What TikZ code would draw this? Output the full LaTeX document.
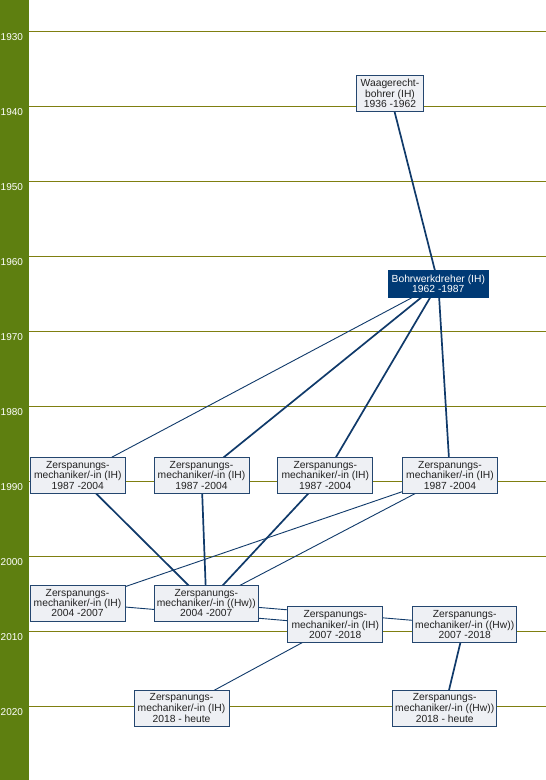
\documentclass[tikz,border=0pt]{standalone}
\usepackage{fontspec}
\setmainfont{Liberation Sans}
\usetikzlibrary{backgrounds}
\definecolor{bargreen}{HTML}{5E7F10}
\definecolor{gridolive}{HTML}{7F7F10}
\definecolor{linkblue}{HTML}{103A6A}
\definecolor{boxborder}{HTML}{24466F}
\definecolor{boxfill}{HTML}{EEF0F4}
\definecolor{hilite}{HTML}{003A75}
\definecolor{boxtext}{HTML}{222222}
\tikzset{
  job/.style={draw=boxborder, fill=boxfill, line width=0.8pt, inner sep=0pt,
    minimum height=36pt, text=boxtext, align=center,
    font=\fontsize{10.3}{9}\selectfont},
  ih/.style={job, minimum width=95pt},
  hw/.style={job, minimum width=104pt},
  cur/.style={job, fill=hilite, draw=hilite, text=white, minimum width=100pt, minimum height=27pt},
  yearlbl/.style={text=white, anchor=west, inner sep=0pt, font=\fontsize{10}{12}\selectfont},
  grid/.style={draw=gridolive, line width=0.8pt},
  thick link/.style={draw=linkblue, line width=1.7pt},
  thin link/.style={draw=linkblue, line width=0.9pt},
}
\begin{document}
\begin{tikzpicture}[x=1pt, y=-1pt]
\useasboundingbox (0,0) rectangle (546,780);
\node[job, minimum width=67pt] (waag) at (390,93.7) {Waagerecht-\\bohrer (IH)\\1936 -1962};
\node[cur] (bohr) at (438.3,283.7) {Bohrwerkdreher (IH)\\1962 -1987};
\node[ih] (n1) at (77.8,475.3) {Zerspanungs-\\mechaniker/-in (IH)\\1987 -2004};
\node[ih] (n2) at (201.5,475.3) {Zerspanungs-\\mechaniker/-in (IH)\\1987 -2004};
\node[ih] (n3) at (325.3,475.3) {Zerspanungs-\\mechaniker/-in (IH)\\1987 -2004};
\node[ih] (n4) at (450,475.3) {Zerspanungs-\\mechaniker/-in (IH)\\1987 -2004};
\node[ih] (ih04) at (77.5,603) {Zerspanungs-\\mechaniker/-in (IH)\\2004 -2007};
\node[hw] (hw04) at (206.3,603) {Zerspanungs-\\mechaniker/-in ((Hw))\\2004 -2007};
\node[ih] (ih07) at (335.3,624.7) {Zerspanungs-\\mechaniker/-in (IH)\\2007 -2018};
\node[hw] (hw07) at (464.7,624.7) {Zerspanungs-\\mechaniker/-in ((Hw))\\2007 -2018};
\node[ih] (ih18) at (181.5,708) {Zerspanungs-\\mechaniker/-in (IH)\\2018 - heute};
\node[hw] (hw18) at (444.7,708) {Zerspanungs-\\mechaniker/-in ((Hw))\\2018 - heute};
\begin{scope}[on background layer]
  \fill[white] (0,0) rectangle (546,780);
  \fill[bargreen] (0,0) rectangle (29,780);
  \foreach \yr [count=\i from 0] in {1930,1940,1950,1960,1970,1980,1990,2000,2010,2020} {
    \coordinate (g\i) at (29,{31+75*\i});
    \coordinate (h\i) at (546,{31+75*\i});
    \draw[grid] (g\i) -- (h\i);
    \node[yearlbl] (y\i) at (0.5,{37+75*\i}) {\yr};
  }
  \draw[thick link] (waag.center) -- (bohr.center);
  \draw[thin link] (bohr.center) -- (n1.center);
  \draw[thick link] (bohr.center) -- (n2.center);
  \draw[thick link] (bohr.center) -- (n3.center);
  \draw[thick link] (bohr.center) -- (n4.center);
  \draw[thick link] (n1.center) -- (hw04.center);
  \draw[thick link] (n2.center) -- (hw04.center);
  \draw[thick link] (n3.center) -- (hw04.center);
  \draw[thin link] (n4.center) -- (ih04.center);
  \draw[thin link] (n4.center) -- (hw04.center);
  \draw[thin link] (ih04.center) -- (ih07.center);
  \draw[thin link] (hw04.center) -- (hw07.center);
  \draw[thin link] (ih07.center) -- (ih18.center);
  \draw[thick link] (hw07.center) -- (hw18.center);
\end{scope}
\end{tikzpicture}
\end{document}
